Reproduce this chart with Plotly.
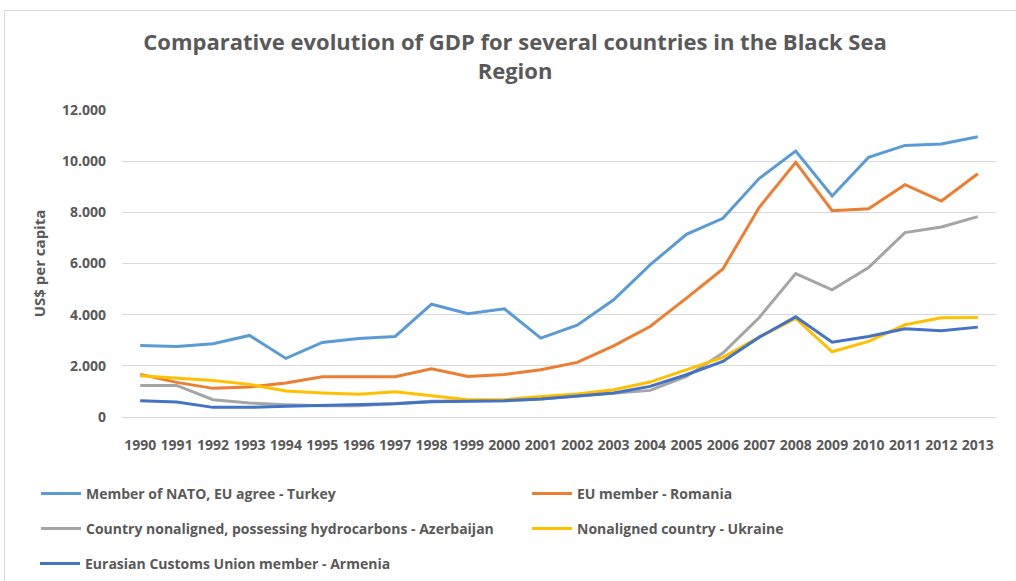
import plotly.graph_objects as go

years = [str(y) for y in range(1990, 2014)]

turkey = [2797, 2758, 2862, 3187, 2290, 2914, 3070, 3148, 4410, 4033, 4228, 3083,
          3590, 4580, 5946, 7142, 7767, 9328, 10395, 8639, 10148, 10616, 10668, 10954]
romania = [1665, 1353, 1119, 1171, 1327, 1574, 1574, 1574, 1886, 1587, 1665, 1847,
           2134, 2784, 3539, 4645, 5789, 8196, 9953, 8066, 8144, 9081, 8443, 9510]
azerbaijan = [1236, 1236, 676, 546, 481, 442, 442, 520, 611, 637, 637, 702,
              806, 910, 1040, 1587, 2498, 3890, 5607, 4970, 5841, 7207, 7428, 7832]
ukraine = [1613, 1509, 1431, 1275, 1015, 937, 885, 989, 833, 676, 676, 806,
           898, 1067, 1366, 1847, 2329, 3122, 3851, 2550, 2953, 3604, 3877, 3890]
armenia = [637, 585, 377, 377, 416, 442, 481, 520, 598, 611, 637, 702,
           806, 937, 1197, 1652, 2173, 3122, 3916, 2927, 3148, 3448, 3370, 3513]

series_names = [
    "Member of NATO, EU agree - Turkey",
    "EU member - Romania",
    "Country nonaligned, possessing hydrocarbons - Azerbaijan",
    "Nonaligned country - Ukraine",
    "Eurasian Customs Union member - Armenia",
]
series_values = [turkey, romania, azerbaijan, ukraine, armenia]
colors = ["#5B9BD5", "#ED7D31", "#A5A5A5", "#FFC000", "#4472C4"]
legend_ids = ["legend", "legend", "legend2", "legend2", "legend3"]

y_tickvals = [0, 2000, 4000, 6000, 8000, 10000, 12000]
y_ticktext = ["0", "2.000", "4.000", "6.000", "8.000", "10.000", "12.000"]

W, H = 1016, 581
ML, MR, MT, MB = 122, 20, 110, 164
PW = W - ML - MR
PH = H - MT - MB


def px_x(px):
    return (px - ML) / PW


def px_y(py):
    return (H - MB - py) / PH


fig = go.Figure()
for name, vals, col, lg in zip(series_names, series_values, colors, legend_ids):
    fig.add_trace(go.Scatter(
        x=years, y=vals, mode="lines", name=name,
        line=dict(color=col, width=3), legend=lg,
    ))

font_family = "Open Sans, Noto Sans, sans-serif"
gray = "#595959"

legend_common = dict(
    orientation="h", xanchor="left", yanchor="middle",
    entrywidth=436, entrywidthmode="pixels",
    font=dict(family=font_family, size=14, color=gray, weight="bold"),
    bgcolor="rgba(0,0,0,0)", itemwidth=40,
)

fig.update_layout(
    width=W, height=H,
    margin=dict(l=ML, r=MR, t=MT, b=MB, autoexpand=False),
    paper_bgcolor="white", plot_bgcolor="white",
    title=dict(
        text="Comparative evolution of GDP for several countries in the Black Sea<br>Region",
        x=515 / W, xanchor="center", xref="container",
        y=1 - 50 / H, yanchor="top", yref="container",
        font=dict(family=font_family, size=22, color=gray, weight="bold"),
    ),
    xaxis=dict(
        type="category", range=[-0.5, 23.5],
        showgrid=False, showline=False, ticks="",
        tickfont=dict(family=font_family, size=14, color=gray, weight="bold"),
        tickangle=0, ticklabelstandoff=18,
    ),
    yaxis=dict(
        range=[0, 12000], tickvals=y_tickvals, ticktext=y_ticktext,
        showgrid=True, gridcolor="#D9D9D9", gridwidth=1,
        zeroline=True, zerolinecolor="#D9D9D9", zerolinewidth=1,
        showline=False, ticks="", ticklabelstandoff=15,
        tickfont=dict(family=font_family, size=14, color=gray, weight="bold"),
        title=dict(text="US$ per capita",
                   font=dict(family=font_family, size=15, color=gray, weight="bold"),
                   standoff=12),
    ),
    legend=dict(x=px_x(36), y=px_y(494), **legend_common),
    legend2=dict(x=px_x(36), y=px_y(529), **legend_common),
    legend3=dict(x=px_x(35), y=px_y(564), **legend_common),
    showlegend=True,
    shapes=[dict(
        type="rect", xref="paper", yref="paper",
        x0=px_x(4.5), x1=px_x(1040), y0=px_y(620), y1=px_y(10.5),
        line=dict(color="#D9D9D9", width=1), fillcolor="rgba(0,0,0,0)", layer="below",
    )],
)

fig.write_html("out.html")
